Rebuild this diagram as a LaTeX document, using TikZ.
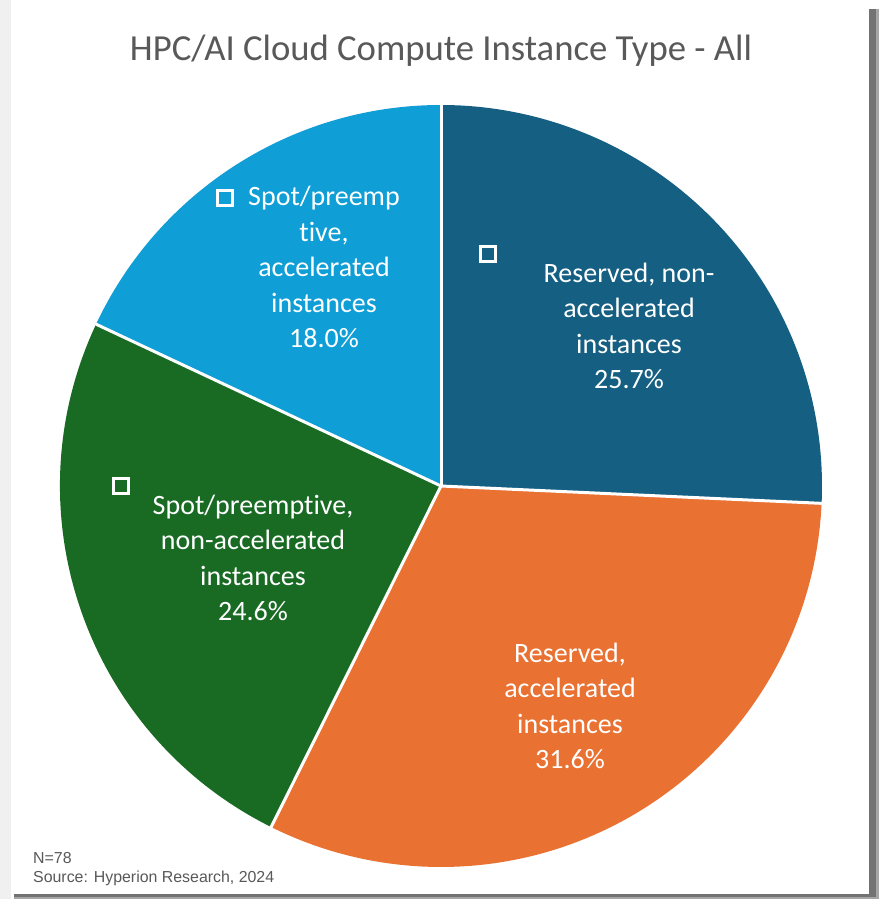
\documentclass[tikz,border=0pt]{standalone}
\usepackage{fontspec}
\setmainfont{Carlito}[Ligatures=NoCommon]
\newfontfamily\notefont{Liberation Sans}
\definecolor{accA}{HTML}{156082}
\definecolor{accB}{HTML}{E97132}
\definecolor{accC}{HTML}{196B24}
\definecolor{accD}{HTML}{0F9ED5}
\definecolor{txtgray}{HTML}{595959}
\tikzset{
  slicelabel/.style={text=white,align=center,font=\fontsize{28}{35.5}\selectfont},
  keybox/.style={draw=white,line width=3pt,minimum size=15pt,inner sep=0pt},
  sep/.style={draw=white,line width=3pt,line cap=round},
  note/.style={anchor=base west,inner sep=0pt,text=txtgray,font=\notefont\fontsize{15.9}{18}\selectfont}
}

\begin{document}
\begin{tikzpicture}[x=1pt,y=-1pt]
\useasboundingbox (0,0) rectangle (879,899);
% panel with shadow
\fill[white] (0,0) rectangle (879,899);
\fill[black!6] (0,0) rectangle (11,899);
\fill[black!35] (14,9) rectangle (879,899);
\fill[black!55] (14,9) rectangle (876,897);
\fill[white] (11,4) rectangle (869,894);

\node[anchor=base,text=txtgray,font=\fontsize{36.7}{40}\selectfont] (title) at (441,60) {HPC/AI Cloud Compute Instance Type - All};

% slices
\coordinate (c) at (441,486);
\path (c) ++(-90:381) coordinate (p1);
\path (c) ++(2.61:381) coordinate (p2);
\path (c) ++(116.48:381) coordinate (p3);
\path (c) ++(205.13:381) coordinate (p4);
\fill[accA] (c) -- (p1) arc[start angle=-90,end angle=2.61,radius=381] -- cycle;
\fill[accB] (c) -- (p2) arc[start angle=2.61,end angle=116.48,radius=381] -- cycle;
\fill[accC] (c) -- (p3) arc[start angle=116.48,end angle=205.13,radius=381] -- cycle;
\fill[accD] (c) -- (p4) arc[start angle=205.13,end angle=270,radius=381] -- cycle;
\draw[sep] (c) -- (p1);
\draw[sep] (c) -- (p2);
\draw[sep] (c) -- (p3);
\draw[sep] (c) -- (p4);

% labels
\node[slicelabel] (l1) at (629,326) {Reserved, non-\\accelerated\\instances\\25.7\%};
\node[slicelabel] (l2) at (570,706) {Reserved,\\accelerated\\instances\\31.6\%};
\node[slicelabel] (l3) at (253,558) {Spot/preemptive,\\non-accelerated\\instances\\24.6\%};
\node[slicelabel] (l4) at (324,267) {Spot/preemp\\tive,\\accelerated\\instances\\18.0\%};
\node[keybox] (k1) at (488,254) {};
\node[keybox] (k3) at (121,486) {};
\node[keybox] (k4) at (225,198) {};

\node[note] (n) at (33,863) {N=78};
\node[note] (src) at (33,882) {Source: Hyperion Research, 2024};
\end{tikzpicture}
\end{document}
